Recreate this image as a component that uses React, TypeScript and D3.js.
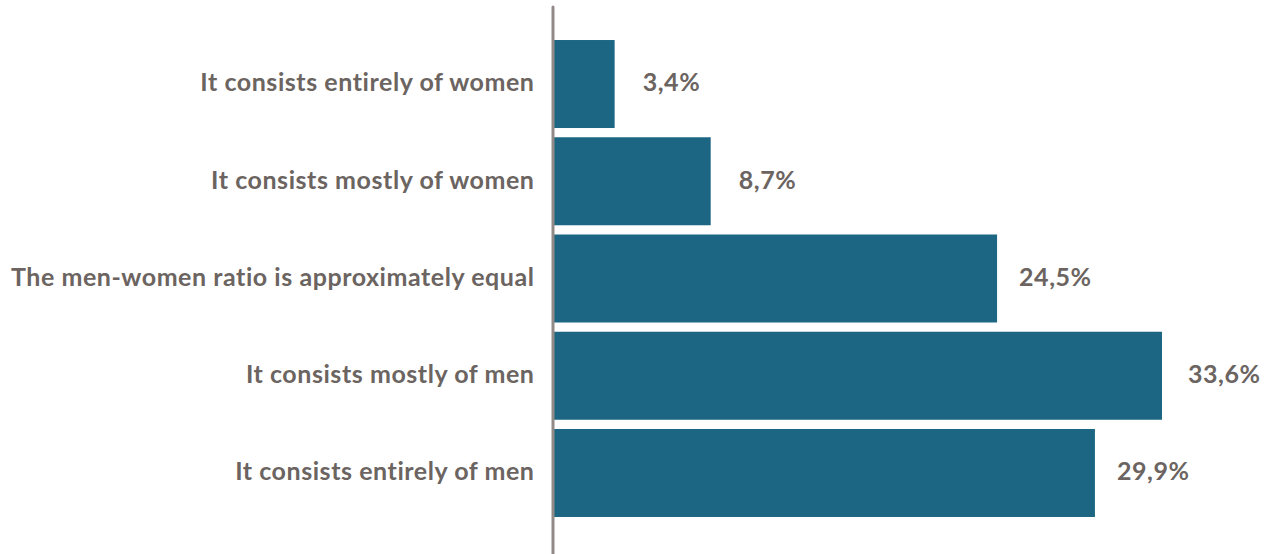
import React from "react";
import * as d3 from "d3";

const categories = [
  "It consists entirely of women",
  "It consists mostly of women",
  "The men-women ratio is approximately equal",
  "It consists mostly of men",
  "It consists entirely of men",
];
const values = [3.4, 8.7, 24.5, 33.6, 29.9];
const valueLabels = ["3,4%", "8,7%", "24,5%", "33,6%", "29,9%"];

// layout: gap between bar end and its value label (px)
const labelGaps = [28, 28, 22, 26, 22];

const W = 1269;
const H = 554;

export default function App() {
  const x = d3.scaleLinear().domain([0, 33.6]).range([553, 1162]);
  const y = d3
    .scaleBand<string>()
    .domain(categories)
    .range([35.4, 521.6])
    .paddingInner(0.095)
    .paddingOuter(0.0475);
  const font = "Lato, 'Open Sans', sans-serif";
  const textColor = "#6b6461";
  const fs = 25;
  const ls = 0.55;
  return (
    <svg
      width={W}
      height={H}
      style={{ position: "absolute", left: 0, top: 0, background: "#fff" }}
    >
      {categories.map((c, i) => {
        const yy = y(c)!;
        const bw = y.bandwidth();
        return (
          <g key={c}>
            <rect x={x(0)} y={yy} width={x(values[i]) - x(0)} height={bw} fill="#1c6683" />
            <text
              x={534.5}
              y={yy + bw / 2}
              dy="0.29em"
              textAnchor="end"
              fontFamily={font}
              fontWeight={700}
              fontSize={fs}
              letterSpacing={ls}
              fill={textColor}
            >
              {c}
            </text>
            <text
              x={x(values[i]) + labelGaps[i]}
              y={yy + bw / 2}
              dy="0.29em"
              textAnchor="start"
              fontFamily={font}
              fontWeight={700}
              fontSize={fs}
              letterSpacing={ls}
              fill={textColor}
            >
              {valueLabels[i]}
            </text>
          </g>
        );
      })}
      <line x1={553} x2={553} y1={7} y2={H} stroke="#918a87" strokeWidth={3} strokeLinecap="round" />
    </svg>
  );
}
